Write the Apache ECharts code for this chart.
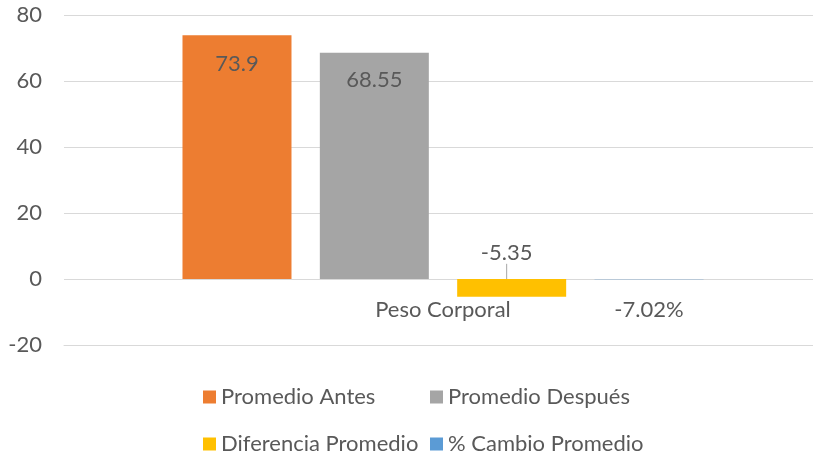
<!DOCTYPE html>
<html>
<head>
<meta charset="utf-8">
<script src="https://cdn.jsdelivr.net/npm/echarts@6/dist/echarts.min.js"></script>
<style>
  html, body { margin: 0; padding: 0; background: #fff; }
  #chart { width: 813px; height: 454px; }
</style>
</head>
<body>
<div id="chart"></div>
<script>
const categories = ['Peso Corporal']
const seriesNames = ['Promedio Antes', 'Promedio Después', 'Diferencia Promedio', '% Cambio Promedio']
const promedioAntes = [73.9]
const promedioDespues = [68.55]
const diferencia = [-5.35]
const cambioPct = [-0.0702]
const yTicks = [-20, 0, 20, 40, 60, 80]

const colors = ['#ED7D31', '#A5A5A5', '#FFC000', '#5B9BD5']
const textColor = '#595959'
const font = 'Lato'
const fontSize = 22

const chart = echarts.init(document.getElementById('chart'))

const baseLabel = {
  show: true,
  color: textColor,
  fontFamily: font,
  fontSize: fontSize
}

// one legend per item so the two columns line up like in Excel
const legendPos = [[203, 386], [430, 386], [203, 433], [430, 433]]
const legends = seriesNames.map((name, i) => ({
  data: [name],
  left: legendPos[i][0],
  top: legendPos[i][1],
  padding: 0,
  icon: 'rect',
  itemWidth: 13,
  itemHeight: 13,
  textStyle: { color: textColor, fontFamily: font, fontSize: fontSize }
}))

chart.setOption({
  animation: false,
  color: colors,
  // plot area runs a little past the right edge, the canvas clips it
  grid: { left: 64, right: -9, top: 15, bottom: 109, containLabel: false, outerBoundsMode: 'none' },
  legend: legends,
  xAxis: {
    type: 'category',
    data: categories,
    axisLine: { onZero: false, lineStyle: { color: '#D9D9D9' } },
    axisTick: { show: false },
    axisLabel: { color: textColor, fontFamily: font, fontSize: fontSize, margin: -46 }
  },
  yAxis: {
    type: 'value',
    min: yTicks[0],
    max: yTicks[yTicks.length - 1],
    interval: 20,
    axisLine: { show: false },
    axisTick: { show: false },
    axisLabel: { color: textColor, fontFamily: font, fontSize: fontSize, margin: 22 },
    splitLine: { lineStyle: { color: '#D9D9D9', width: 1 } }
  },
  series: [
    {
      name: seriesNames[0], type: 'bar', data: promedioAntes,
      barWidth: 109, barGap: '26%',
      label: Object.assign({}, baseLabel, { position: 'insideTop', distance: 18 })
    },
    {
      name: seriesNames[1], type: 'bar', data: promedioDespues,
      barWidth: 109, barGap: '26%',
      label: Object.assign({}, baseLabel, { position: 'insideTop', distance: 16 })
    },
    {
      name: seriesNames[2], type: 'bar', data: diferencia,
      barWidth: 109, barGap: '26%',
      label: Object.assign({}, baseLabel, { position: 'inside' }),
      labelLayout: { dx: -5, dy: -35 },
      labelLine: { show: true, lineStyle: { color: '#A6A6A6', width: 1 } }
    },
    {
      name: seriesNames[3], type: 'bar', data: cambioPct,
      barWidth: 109, barGap: '26%',
      label: Object.assign({}, baseLabel, {
        position: 'bottom', distance: 20,
        formatter: p => (p.value * 100).toFixed(2) + '%'
      })
    }
  ]
})
</script>
</body>
</html>
